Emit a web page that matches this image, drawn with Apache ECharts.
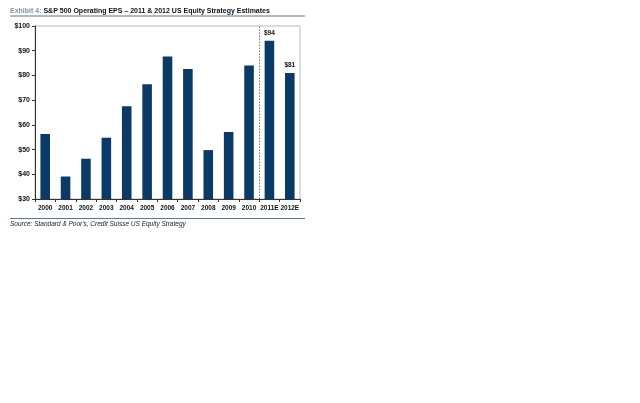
<!DOCTYPE html>
<html><head><meta charset="utf-8">
<script src="https://cdn.jsdelivr.net/npm/echarts@6/dist/echarts.min.js"></script>
<style>html,body{margin:0;padding:0;background:#fff}#c{width:640px;height:403px}</style>
</head><body><div id="c"></div>
<script>
var categories = ['2000','2001','2002','2003','2004','2005','2006','2007','2008','2009','2010','2011E','2012E'];
var eps = [56.3, 39.1, 46.3, 54.8, 67.5, 76.4, 87.7, 82.6, 49.8, 57.1, 84.0, 94.0, 81.0];
var labelled = {'2011E':'$94','2012E':'$81'};
var estimateStart = 11;
var yTicks = {min:30, max:100, interval:10};

var F = '"Liberation Sans", Arial, sans-serif';
var chart = echarts.init(document.getElementById('c'));
chart.setOption({
  animation:false,
  textStyle:{fontFamily:F},
  grid:{left:35, right:340, top:26, bottom:204, show:true, borderColor:'#b8b8b8', borderWidth:1},
  graphic:[
    {type:'text', left:10, top:7.5, style:{rich:{a:{fill:'#7f93a8',fontWeight:'bold',fontSize:7,fontFamily:F},b:{fill:'#111',fontWeight:'bold',fontSize:7,fontFamily:F}}, text:'{a|Exhibit 4: }{b|S&P 500 Operating EPS – 2011 & 2012 US Equity Strategy Estimates}'}},
    {type:'line', shape:{x1:10,y1:16,x2:305,y2:16}, style:{stroke:'#4f7aa8', lineWidth:1.2}},
    {type:'line', shape:{x1:10,y1:218.5,x2:305,y2:218.5}, style:{stroke:'#4f7aa8', lineWidth:1.2}},
    {type:'text', left:10, top:221, style:{text:"Source: Standard & Poor's, Credit Suisse US Equity Strategy", fill:'#222', fontStyle:'italic', fontSize:6.5, fontFamily:F}}
  ],
  xAxis:[{
    type:'category', data:categories,
    axisLine:{lineStyle:{color:'#333', width:1}},
    axisTick:{show:true, length:3, lineStyle:{color:'#333'}},
    axisLabel:{color:'#111', fontWeight:'bold', fontSize:6.5, margin:6, interval:0},
    splitLine:{show:false}
  },{
    type:'value', min:0, max:categories.length, show:false, splitLine:{show:false}
  }],
  yAxis:{
    type:'value', min:yTicks.min, max:yTicks.max, interval:yTicks.interval,
    axisLine:{show:true, lineStyle:{color:'#333', width:1}},
    axisTick:{show:true, length:3, lineStyle:{color:'#333'}},
    axisLabel:{color:'#111', fontWeight:'bold', fontSize:7, margin:5, formatter:function(v){return '$'+v;}},
    splitLine:{show:false}
  },
  series:[{
    type:'bar', barWidth:'47%',
    data:eps.map(function(v,i){
      var lab = labelled[categories[i]];
      return lab ? {value:v, label:{show:true, position:'top', formatter:lab, distance:4, color:'#111', fontWeight:'bold', fontSize:6.5}} : v;
    }),
    itemStyle:{color:'#0b3a67'}
  },{
    type:'scatter', xAxisIndex:1, data:[], silent:true,
    markLine:{symbol:'none', silent:true, label:{show:false},
      lineStyle:{color:'#777', type:[1.5,1.5], width:1},
      data:[{xAxis:estimateStart}]}
  }]
});
</script></body></html>
